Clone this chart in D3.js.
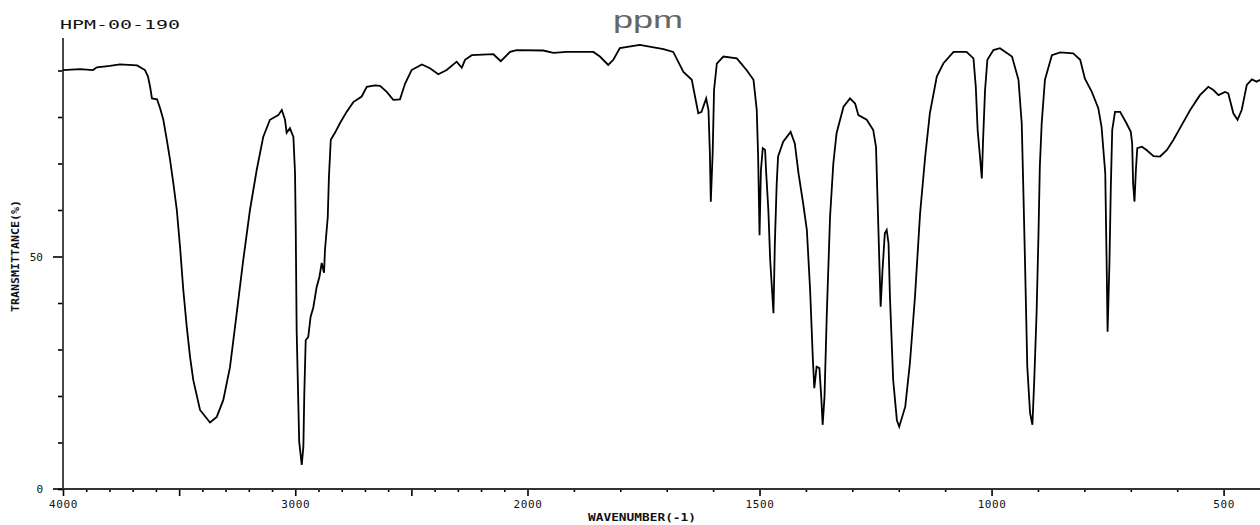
<!DOCTYPE html>
<html><head><meta charset="utf-8">
<script src="https://cdn.jsdelivr.net/npm/d3@7"></script>
<style>html,body{margin:0;padding:0;background:#fff;}svg{display:block;}</style>
</head><body>
<script>
const wavenumbers = [4000,3927,3871,3854,3798,3755,3681,3647,3634,3625,
3617,3595,3582,3568,3553,3539,3525,3510,3496,3482,
3467,3453,3439,3410,3367,3338,3310,3281,3252,3224,
3195,3166,3138,3109,3073,3058,3044,3037,3023,3008,
3001,2998,2994,2983,2972,2965,2961,2955,2944,2934,
2922,2908,2896,2886,2876,2872,2860,2855,2847,2829,
2807,2779,2750,2714,2692,2657,2635,2606,2578,2549,
2527,2499,2455,2420,2384,2348,2305,2283,2269,2240,
2147,2115,2075,2047,1966,1944,1916,1858,1844,1826,
1815,1801,1758,1707,1686,1664,1646,1639,1632,1625,
1615,1610,1607,1605,1601,1598,1592,1578,1549,1528,
1513,1506,1503,1500,1497,1493,1488,1486,1481,1477,
1470,1467,1463,1460,1449,1433,1424,1416,1406,1398,
1391,1385,1382,1377,1371,1367,1364,1360,1355,1348,
1341,1334,1319,1305,1294,1287,1269,1255,1249,1244,
1239,1235,1230,1226,1222,1219,1212,1204,1199,1186,
1176,1165,1154,1143,1133,1118,1104,1082,1054,1039,
1034,1030,1025,1021,1018,1014,1009,996,982,956,
942,935,932,928,923,917,912,908,903,899,
896,892,885,870,852,824,809,799,784,770,
763,755,752,750,746,743,740,734,723,709,
700,697,695,692,689,686,676,666,651,637,
622,608,590,572,551,533,522,511,497,490,
479,470,461,450,439,429,417,400];
const transmittance = [90.1,90.3,90.1,90.7,91.0,91.3,91.1,90.1,88.7,86.5,
84.0,83.8,81.9,79.4,75.1,70.8,65.8,60.0,52.0,42.8,
34.8,28.4,23.4,17.0,14.3,15.5,19.1,26.2,37.8,49.2,
60.0,68.6,75.7,79.4,80.4,81.5,79.4,76.6,77.6,75.7,
68.0,56.8,34.2,10.2,5.2,9.1,20.6,32.0,32.7,37.0,
39.1,43.4,45.6,48.6,46.5,51.4,58.5,67.1,75.1,76.6,
78.7,81.1,83.2,84.4,86.5,86.8,86.7,85.4,83.7,83.8,
87.2,90.1,91.3,90.5,89.2,90.1,91.9,90.6,92.3,93.3,
93.5,92.0,94.0,94.4,94.3,93.8,94.0,94.0,93.0,91.2,
92.3,94.8,95.5,94.6,94.0,89.7,88.0,84.4,80.8,81.1,
84.0,81.5,72.2,61.8,72.2,85.8,91.5,93.0,92.6,90.1,
88.0,81.5,71.5,54.6,68.6,73.3,72.9,68.6,60.0,49.2,
37.8,52.8,65.7,71.5,74.7,76.8,74.3,67.9,61.4,55.7,
42.8,27.7,21.7,26.3,26.0,19.8,13.8,19.8,37.8,58.6,
70.0,76.5,82.2,84.0,82.9,80.4,79.4,77.2,73.6,56.4,
39.2,47.1,55.0,55.7,52.8,41.4,23.4,14.8,13.4,17.7,
27.0,41.4,59.3,71.5,80.8,88.7,91.5,94.0,94.0,92.6,
86.5,77.2,71.5,66.8,75.8,85.8,92.3,94.4,94.8,93.0,
88.0,78.6,66.4,49.2,26.3,16.3,13.8,23.4,37.8,54.3,
69.3,78.6,88.0,93.3,93.9,93.7,92.3,88.3,85.4,81.9,
77.9,67.9,48.5,33.8,48.5,65.0,77.2,81.1,81.1,78.6,
76.8,74.3,65.7,61.8,68.6,73.3,73.6,72.9,71.6,71.5,
72.9,75.1,78.3,81.5,84.7,86.5,85.8,84.7,85.4,85.1,
80.8,79.4,81.5,86.9,88.1,87.6,88.2,88.0];
const xMajorTicks = [4000,3500,3000,2500,2000,1500,1000,500];
const xTickLabels = {4000:"4000",3000:"3000",2000:"2000",1500:"1500",1000:"1000",500:"500"};
const yTicks = [0,10,20,30,40,50,60,70,80,90];
const yTickLabels = {0:"0",50:"50"};
const sampleTitle = "HPM-00-190";
const unitTitle = "ppm";
const xAxisTitle = "WAVENUMBER(-1)";
const yAxisTitle = "TRANSMITTANCE(%)";

const W = 1260, H = 525;
const svg = d3.select("body").append("svg").attr("width", W).attr("height", H);
svg.append("rect").attr("width", W).attr("height", H).attr("fill", "#fff");

const x = d3.scaleLinear().domain([4000, 2000, 400]).range([63, 527.5, 1270]);
const y = d3.scaleLinear().domain([0, 100]).range([489, 24]);
const monoFont = "'DejaVu Sans Mono', monospace";

// x axis
const xMinor = d3.range(3900, 399, -100).filter(v => v % 500 !== 0);
const gxMinor = svg.append("g").attr("transform", "translate(0,489)")
  .call(d3.axisBottom(x).tickValues(xMinor).tickSize(3).tickFormat(""));
const gx = svg.append("g").attr("transform", "translate(0,489)")
  .call(d3.axisBottom(x).tickValues(xMajorTicks).tickSize(7).tickPadding(4)
    .tickFormat(d => xTickLabels[d] || ""));
[gx, gxMinor].forEach(g => {
  g.select(".domain").remove();
  g.selectAll(".tick line").attr("stroke", "#000").attr("stroke-width", 1.6);
});
gx.selectAll(".tick text").attr("font-family", monoFont).attr("font-size", 11)
  .attr("fill", "#111").attr("letter-spacing", 0.6);
svg.append("line").attr("x1", 53).attr("x2", W).attr("y1", 489).attr("y2", 489)
  .attr("stroke", "#333").attr("stroke-width", 1.8);

// y axis
const gy = svg.append("g").attr("transform", "translate(63,0)")
  .call(d3.axisLeft(y).tickValues(yTicks).tickSize(5).tickPadding(8)
    .tickFormat(d => yTickLabels[d] !== undefined ? yTickLabels[d] : ""));
gy.select(".domain").remove();
gy.selectAll(".tick line").attr("stroke", "#000").attr("stroke-width", 1.6)
  .attr("x2", d => (d === 50 ? -10 : -5));
gy.selectAll(".tick text").attr("font-family", monoFont).attr("font-size", 11)
  .attr("fill", "#111").attr("x", -20);
svg.append("line").attr("x1", 63).attr("x2", 63).attr("y1", 38).attr("y2", 489)
  .attr("stroke", "#333").attr("stroke-width", 1.8);

// spectrum
const pts = wavenumbers.map((w, i) => [w, transmittance[i]]);
svg.append("path").datum(pts)
  .attr("fill", "none").attr("stroke", "#000").attr("stroke-width", 1.8)
  .attr("stroke-linejoin", "miter")
  .attr("d", d3.line().x(d => x(d[0])).y(d => y(d[1])));

// titles
svg.append("text").attr("x", 60).attr("y", 29).text(sampleTitle)
  .attr("font-family", monoFont).attr("font-size", 12).attr("fill", "#111")
  .attr("textLength", 120).attr("lengthAdjust", "spacingAndGlyphs");
svg.append("text").attr("x", 613).attr("y", 28).text(unitTitle)
  .attr("font-family", "'Liberation Sans', Arial, sans-serif").attr("font-size", 23)
  .attr("font-weight", 300).attr("fill", "#666")
  .attr("textLength", 70).attr("lengthAdjust", "spacingAndGlyphs");
svg.append("text").attr("x", 642).attr("y", 521).attr("text-anchor", "middle").text(xAxisTitle)
  .attr("font-family", monoFont).attr("font-size", 10).attr("font-weight", "bold")
  .attr("fill", "#111").attr("textLength", 108).attr("lengthAdjust", "spacingAndGlyphs");
svg.append("text").attr("transform", "translate(19,256) rotate(-90)")
  .attr("text-anchor", "middle").text(yAxisTitle)
  .attr("font-family", monoFont).attr("font-size", 10).attr("font-weight", "bold")
  .attr("fill", "#111").attr("textLength", 112).attr("lengthAdjust", "spacingAndGlyphs");
</script>
</body></html>
